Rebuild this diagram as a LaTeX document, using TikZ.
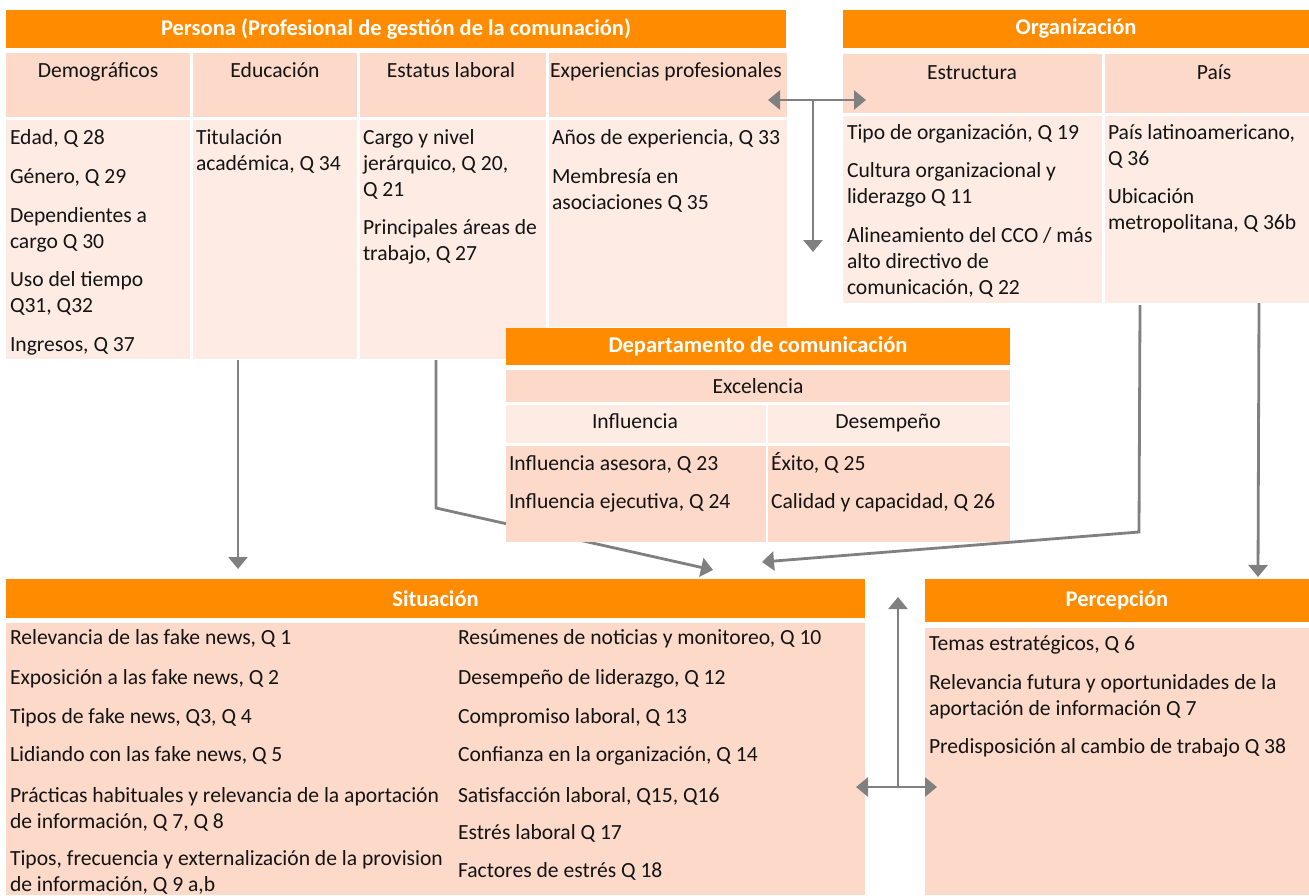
\documentclass[tikz,border=0pt]{standalone}
\usepackage{fontspec}
\setmainfont{Carlito}
\usetikzlibrary{arrows.meta}
\definecolor{hdr}{RGB}{255,140,0}
\definecolor{dk}{RGB}{252,217,201}
\definecolor{lt}{RGB}{253,235,228}
\definecolor{arr}{RGB}{128,128,128}
\definecolor{ink}{RGB}{20,20,20}
\begin{document}
\begin{tikzpicture}[x=1pt,y=-1pt,
  box/.style={anchor=north west, inner sep=0, outer sep=0, draw=none},
  hbox/.style={box, fill=hdr, text=white, font=\fontsize{22.5}{26}\selectfont\bfseries},
  tx/.style={anchor=base west, inner sep=0, outer sep=0, text=ink, align=left, font=\fontsize{21.6}{26}\selectfont},
  ct/.style={anchor=base, inner sep=0, outer sep=0, text=ink, font=\fontsize{21.6}{26}\selectfont},
  conn/.style={draw=arr, line width=2.8, -{Triangle[length=12pt,width=19pt]}},
  dconn/.style={draw=arr, line width=2.8, {Triangle[length=12pt,width=19pt]}-{Triangle[length=12pt,width=19pt]}}
]
\useasboundingbox (0,0) rectangle (1309,895);

% ---------- Persona ----------
\node[hbox, minimum width=780, minimum height=38] (perH) at (6,10) {Persona (Profesional de gestión de la comunación)};
\node[box, fill=dk, minimum width=184, minimum height=64] (c1) at (6,53) {};
\node[box, fill=dk, minimum width=164, minimum height=64] (c2) at (193,53) {};
\node[box, fill=dk, minimum width=186, minimum height=64] (c3) at (360,53) {};
\node[box, fill=dk, minimum width=238, minimum height=64] (c4) at (549,53) {};
\node[box, fill=lt, minimum width=184, minimum height=239] (b1) at (6,120) {};
\node[box, fill=lt, minimum width=164, minimum height=239] (b2) at (193,120) {};
\node[box, fill=lt, minimum width=186, minimum height=239] (b3) at (360,120) {};
\node[box, fill=lt, minimum width=238, minimum height=207] (b4) at (549,120) {};

\node[ct] (h1) at (98,77) {Demográficos};
\node[ct] (h2) at (275,77) {Educación};
\node[ct] (h3) at (451,77) {Estatus laboral};
\node[ct] (h4) at (666,77) {Experiencias profesionales};

\node[tx] (p1) at (10,144) {Edad, Q 28};
\node[tx] (p2) at (10,183) {Género, Q 29};
\node[tx] (p3) at (10,248) {Dependientes a\\cargo Q 30};
\node[tx] (p4) at (10,312) {Uso del tiempo\\Q31, Q32};
\node[tx] (p5) at (10,351) {Ingresos, Q 37};
\node[tx] (e1) at (196,170) {Titulación\\académica, Q 34};
\node[tx] (s1) at (363,196) {Cargo y nivel\\jerárquico, Q 20,\\Q 21};
\node[tx] (s2) at (363,260) {Principales áreas de\\trabajo, Q 27};
\node[tx] (x1) at (552,144) {Años de experiencia, Q 33};
\node[tx] (x2) at (552,209) {Membresía en\\asociaciones Q 35};

% ---------- Organización ----------
\node[hbox, minimum width=466, minimum height=38] (orgH) at (843,10) {Organización};
\node[box, fill=dk, minimum width=259, minimum height=59] (o1) at (843,54) {};
\node[box, fill=dk, minimum width=204, minimum height=59] (o2) at (1105,54) {};
\node[box, fill=lt, minimum width=259, minimum height=187] (ob1) at (843,116) {};
\node[box, fill=lt, minimum width=204, minimum height=187] (ob2) at (1105,116) {};
\node[ct] (oh1) at (972,79) {Estructura};
\node[ct] (oh2) at (1214,79) {País};
\node[tx] (r1) at (847,139) {Tipo de organización,  Q 19};
\node[tx] (r2) at (847,203) {Cultura organizacional y\\liderazgo Q 11};
\node[tx] (r3) at (847,294) {Alineamiento del CCO / más\\alto directivo de\\comunicación, Q 22};
\node[tx] (q1) at (1108,165) {País latinoamericano,\\Q 36};
\node[tx] (q2) at (1108,229) {Ubicación\\metropolitana, Q 36b};

% ---------- arrow hidden behind Departamento ----------
\coordinate (a2s) at (436,360);
\coordinate (a2m) at (436,508);
\coordinate (a2e) at (713,570);
\draw[conn] (a2s) -- (a2m) -- (a2e);

% ---------- Departamento ----------
\node[hbox, minimum width=504, minimum height=37] (dH) at (506,328) {Departamento de comunicación};
\node[box, fill=dk, minimum width=504, minimum height=32] (dex) at (506,370) {};
\node[box, fill=lt, minimum width=260, minimum height=38] (din) at (506,405) {};
\node[box, fill=lt, minimum width=242, minimum height=38] (dde) at (768,405) {};
\node[box, fill=dk, minimum width=260, minimum height=96] (dbl) at (506,446) {};
\node[box, fill=dk, minimum width=242, minimum height=96] (dbr) at (768,446) {};
\node[ct] (dt1) at (758,393) {Excelencia};
\node[ct] (dt2) at (635,428) {Influencia};
\node[ct] (dt3) at (888,428) {Desempeño};
\node[tx] (d1) at (509,470) {Influencia asesora, Q 23};
\node[tx] (d2) at (509,508) {Influencia ejecutiva, Q 24};
\node[tx] (d3) at (771,470) {Éxito, Q 25};
\node[tx] (d4) at (771,508) {Calidad y capacidad, Q 26};

% ---------- Situación ----------
\node[hbox, minimum width=859, minimum height=39] (sH) at (6,579) {Situación};
\node[box, fill=dk, minimum width=859, minimum height=272] (sb) at (6,623) {};
\node[tx] (l1) at (10,644) {Relevancia de las fake news, Q 1};
\node[tx] (l2) at (10,684) {Exposición  a las fake news, Q 2};
\node[tx] (l3) at (10,723) {Tipos de fake news, Q3, Q 4};
\node[tx] (l4) at (10,761) {Lidiando con las fake news, Q 5};
\node[tx] (l5) at (10,828) {Prácticas habituales y relevancia de la aportación\\de información,  Q 7, Q 8};
\node[tx] (l6) at (10,891) {Tipos, frecuencia y externalización de la provision\\de información,  Q 9 a,b};
\node[tx] (m1) at (458,644) {Resúmenes de noticias y monitoreo, Q 10};
\node[tx] (m2) at (458,684) {Desempeño de liderazgo, Q 12};
\node[tx] (m3) at (458,723) {Compromiso laboral, Q 13};
\node[tx] (m4) at (458,761) {Confianza en la organización, Q 14};
\node[tx] (m5) at (458,802) {Satisfacción laboral, Q15, Q16};
\node[tx] (m6) at (458,839) {Estrés laboral Q 17};
\node[tx] (m7) at (458,877) {Factores de estrés Q 18};

% ---------- Percepción ----------
\node[hbox, minimum width=384, minimum height=43] (pH) at (925,579) {Percepción};
\node[box, fill=dk, minimum width=384, minimum height=267] (pb) at (925,628) {};
\node[tx] (n1) at (929,650) {Temas estratégicos, Q 6};
\node[tx] (n2) at (929,715) {Relevancia futura y oportunidades de la\\aportación de información Q 7};
\node[tx] (n3) at (929,753) {Predisposición  al cambio de trabajo Q 38};

% ---------- connectors ----------
\coordinate (a1s) at (238,360);
\coordinate (a1e) at (238,569);
\draw[conn] (a1s) -- (a1e);

\coordinate (a3s) at (1140,305);
\coordinate (a3m) at (1139,532);
\coordinate (a3e) at (762,562);
\draw[conn] (a3s) -- (a3m) -- (a3e);

\coordinate (a4s) at (1259,303);
\coordinate (a4e) at (1258,577);
\draw[conn] (a4s) -- (a4e);

\coordinate (a5l) at (768,100);
\coordinate (a5r) at (866,100);
\coordinate (a5m) at (813,100);
\coordinate (a5d) at (813,252);
\draw[dconn] (a5l) -- (a5r);
\draw[conn] (a5m) -- (a5d);

\coordinate (a6l) at (856,787);
\coordinate (a6r) at (937,787);
\coordinate (a6m) at (898,787);
\coordinate (a6u) at (898,597);
\draw[dconn] (a6l) -- (a6r);
\draw[conn] (a6m) -- (a6u);
\end{tikzpicture}
\end{document}
